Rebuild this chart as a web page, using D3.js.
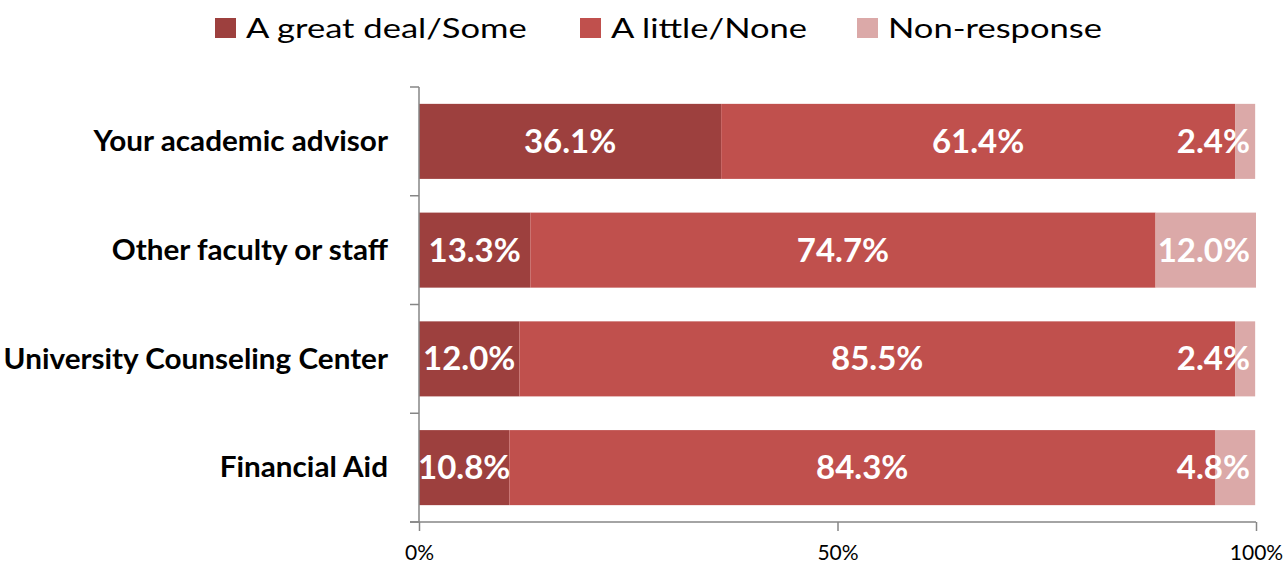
<!DOCTYPE html>
<html>
<head>
<meta charset="utf-8">
<script src="https://cdn.jsdelivr.net/npm/d3@7"></script>
<style>
  html, body { margin: 0; padding: 0; background: #fff; }
  svg { display: block; }
</style>
</head>
<body>
<svg id="chart" width="1288" height="567"></svg>
<script>
// Survey sources, top to bottom
const categories = ["Your academic advisor", "Other faculty or staff", "University Counseling Center", "Financial Aid"];
const seriesNames = ["A great deal/Some", "A little/None", "Non-response"];
const greatDealSome = [36.1, 13.3, 12.0, 10.8];
const littleNone = [61.4, 74.7, 85.5, 84.3];
const nonResponse = [2.4, 12.0, 2.4, 4.8];
const tickValues = [0, 50, 100];
const tickLabels = ["0%", "50%", "100%"];
const colors = ["#9D403E", "#C0504D", "#DBA9A8"];

const svg = d3.select("#chart");
const margin = { left: 419, right: 32, top: 87, bottom: 45 };
const W = 1288, H = 567;

const x = d3.scaleLinear().domain([0, 100]).range([margin.left, W - margin.right]);
const y = d3.scaleBand().domain(categories).range([margin.top, H - margin.bottom]).paddingInner(0.31).paddingOuter(0.155);

const rows = categories.map((c, i) => ({ category: c, values: [greatDealSome[i], littleNone[i], nonResponse[i]] }));
const stack = d3.stack().keys([0, 1, 2]).value((d, k) => d.values[k]);
const layers = stack(rows);

const font = "Lato, 'Open Sans', sans-serif";

// Bars
layers.forEach((layer, k) => {
  svg.append("g").selectAll("rect").data(layer).join("rect")
    .attr("x", d => x(d[0]))
    .attr("y", (d, i) => y(categories[i]))
    .attr("width", d => x(d[1]) - x(d[0]))
    .attr("height", y.bandwidth())
    .attr("fill", colors[k]);
});

// Value labels, kept inside the plot on the right
const labelG = svg.append("g");
layers.forEach((layer, k) => {
  layer.forEach((d, i) => {
    const v = rows[i].values[k];
    const t = labelG.append("text")
      .attr("y", y(categories[i]) + y.bandwidth() / 2)
      .attr("dy", "0.35em")
      .attr("text-anchor", "middle")
      .attr("font-family", font)
      .attr("font-weight", "bold")
      .attr("font-size", 33)
      .attr("fill", "#fff")
      .text(v.toFixed(1) + "%");
    const w = t.node().getComputedTextLength();
    let cx = (x(d[0]) + x(d[1])) / 2;
    const maxRight = x(100) - 6;
    if (cx + w / 2 > maxRight) cx = maxRight - w / 2;
    t.attr("x", cx);
  });
});

// Y axis (category axis)
const yAxis = svg.append("g").attr("transform", `translate(${x(0)},0)`);
const step = y.step();
const tickYs = d3.range(categories.length + 1).map(i => margin.top + i * step);
yAxis.append("line").attr("x1", 0).attr("x2", 0).attr("y1", margin.top).attr("y2", H - margin.bottom)
  .attr("stroke", "#868686").attr("stroke-width", 1.5);
yAxis.selectAll("line.tick").data(tickYs).join("line").attr("class", "tick")
  .attr("x1", -9).attr("x2", 0).attr("y1", d => d).attr("y2", d => d)
  .attr("stroke", "#868686").attr("stroke-width", 1.5);
// Category names, slightly widened
yAxis.selectAll("g.cat").data(categories).join("g").attr("class", "cat")
  .attr("transform", d => `translate(-31,${y(d) + y.bandwidth() / 2}) scale(1.06,1)`)
  .append("text")
  .attr("dy", "0.35em")
  .attr("text-anchor", "end")
  .attr("font-family", font)
  .attr("font-weight", "bold")
  .attr("font-size", 28)
  .attr("fill", "#000")
  .text(d => d);

// X axis
const xAxisG = svg.append("g").attr("transform", `translate(0,${H - margin.bottom})`)
  .call(d3.axisBottom(x).tickValues(tickValues).tickFormat((d, i) => tickLabels[i]).tickSize(9).tickPadding(14));
xAxisG.select(".domain").attr("d", `M${x(0) - 9},0H${x(100)}`).attr("stroke", "#868686").attr("stroke-width", 1.5);
xAxisG.selectAll(".tick line").attr("stroke", "#868686").attr("stroke-width", 1.5);
xAxisG.selectAll(".tick text").attr("font-family", font).attr("font-size", 21).attr("fill", "#000");

// Legend
const legend = svg.append("g");
const legendX = [215, 580, 857];
seriesNames.forEach((name, k) => {
  const g = legend.append("g").attr("transform", `translate(${legendX[k]},0)`);
  g.append("rect").attr("x", 0).attr("y", 18).attr("width", 21).attr("height", 20).attr("fill", colors[k]);
  g.append("g").attr("transform", "translate(31,38) scale(1.28,1)")
    .append("text")
    .attr("font-family", font).attr("font-size", 27).attr("fill", "#000").text(name);
});
</script>
</body>
</html>
